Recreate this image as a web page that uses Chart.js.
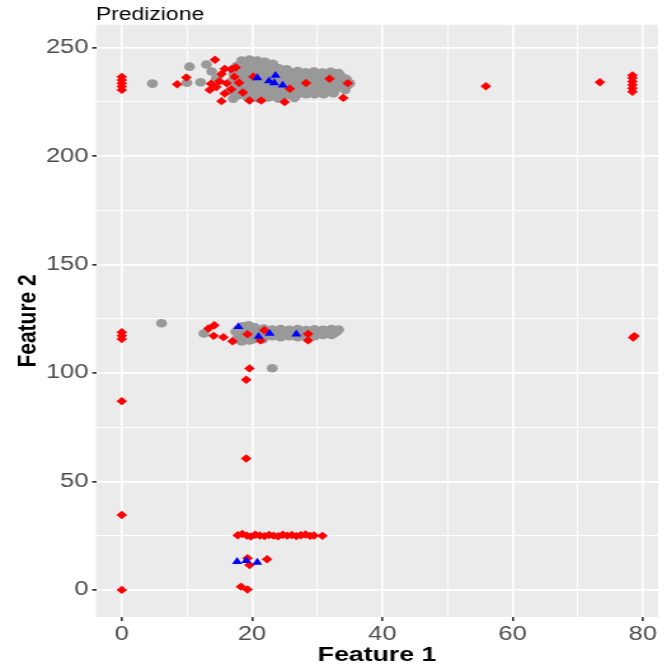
<!DOCTYPE html>
<html>
<head>
<meta charset="utf-8">
<title>Predizione</title>
<script src="https://cdn.jsdelivr.net/npm/chart.js@4.4.0/dist/chart.umd.min.js"></script>
<style>
    html, body { margin: 0; padding: 0; background: #fff; overflow: hidden; }
    /* the reference is stretched sideways, so draw narrow and widen */
    #wrap { width: 525px; height: 666px; transform: scaleX(1.2705); transform-origin: 0 0; }
</style>
</head>
<body>
<div id="wrap"><canvas id="chart"></canvas></div>
<script>
// Data
const xTicks = [0, 20, 40, 60, 80];
const yTicks = [0, 50, 100, 150, 200, 250];

const greyX = [
    4.7, 10.0, 10.4, 12.1, 13.0, 13.8, 14.5, 16.6, 17.1,
    18.4, 19.6, 20.8, 22.0, 23.2,
    17.6, 18.9, 20.2, 21.5, 22.8, 24.1, 25.3,
    18.0, 19.3, 20.6, 21.9, 23.2, 24.5, 25.8, 27.0, 28.2, 29.5, 30.8, 32.1, 33.3,
    17.2, 18.5, 19.8, 21.1, 22.4, 23.7, 25.0, 26.3, 27.6, 28.9, 30.2, 31.5, 32.8, 33.8,
    17.8, 19.1, 20.4, 21.7, 23.0, 24.3, 25.6, 26.9, 28.2, 29.5, 30.8, 32.1, 33.4, 34.5,
    16.9, 18.2, 19.5, 20.8, 22.1, 23.4, 24.7, 26.0, 27.3, 28.6, 29.9, 31.2, 32.5, 33.8, 35.0,
    17.6, 18.9, 20.2, 21.5, 22.8, 24.1, 25.4, 26.7, 28.0, 29.3, 30.6, 31.9, 33.2, 34.6,
    17.4, 18.7, 20.0, 21.3, 22.6, 23.9, 25.2, 26.5, 27.8, 29.1, 30.4, 31.7, 33.0, 34.3,
    18.3, 19.6, 20.9, 22.2, 23.5, 24.8, 26.1, 27.4, 28.7, 30.0, 31.3, 32.6,
    17.9, 19.2, 20.5, 21.8, 23.1, 24.4, 25.7, 27.0, 28.3, 29.6, 31.0, 32.5,
    19.5, 21.0, 22.5, 24.0, 26.5,
    18.6, 19.5, 20.4,
    17.9, 19.2, 20.5, 21.8, 23.1, 24.4, 25.7, 27.0, 28.3, 29.6, 30.9, 32.2, 33.3,
    17.5, 18.8, 20.1, 21.4, 22.7, 24.0, 25.3, 26.6, 27.9, 29.2, 30.5, 31.8, 33.0,
    18.3, 19.6, 20.9, 22.2, 23.5, 24.8, 26.1, 27.4, 28.7, 30.0, 31.3, 32.6,
    17.9, 19.2, 20.5, 21.8, 23.1, 24.4, 25.7, 27.0, 28.3, 29.6, 30.9, 32.2,
    17.7, 19.0, 20.3, 21.6,
    18.4, 19.6,
    12.6, 6.1, 23.1
];
const greyY = [
    233.4, 233.8, 241.2, 234.0, 242.2, 239.0, 235.6, 230.0, 226.4,
    244.0, 244.5, 244.0, 243.5, 242.5,
    241.5, 242.0, 241.0, 241.5, 240.8, 240.5, 240.0,
    239.8, 240.2, 239.6, 240.0, 239.5, 239.8, 238.8, 239.2, 238.6, 239.0, 238.5, 238.8, 238.2,
    238.0, 237.5, 238.5, 238.0, 237.5, 238.5, 237.5, 238.0, 237.5, 238.0, 237.5, 237.5, 238.0, 236.5,
    236.2, 236.5, 235.9, 236.3, 236.0, 236.6, 236.1, 235.8, 236.4, 236.0, 236.3, 235.9, 236.2, 235.5,
    234.5, 235.0, 234.0, 234.5, 235.0, 234.0, 234.5, 235.0, 234.0, 234.5, 235.0, 234.0, 234.5, 235.0, 233.5,
    232.8, 233.1, 232.5, 232.9, 232.6, 233.0, 232.7, 232.4, 232.9, 232.6, 233.0, 232.5, 232.8, 232.4,
    231.0, 230.5, 231.5, 231.0, 230.5, 231.0, 231.5, 230.5, 231.0, 231.5, 230.5, 231.0, 231.5, 230.5,
    229.3, 229.0, 229.6, 229.2, 229.5, 229.1, 229.4, 229.8, 229.6, 229.9, 230.0, 230.2,
    228.0, 227.5, 228.0, 227.0, 227.5, 227.5, 228.0, 228.5, 228.5, 228.5, 228.5, 229.0,
    226.5, 226.5, 227.0, 226.5, 226.8,
    121.5, 122.0, 121.0,
    120.3, 120.6, 120.2, 120.5, 120.0, 120.3, 119.9, 120.2, 119.8, 120.1, 119.9, 120.3, 120.0,
    119.0, 118.5, 119.5, 119.0, 118.5, 119.0, 118.5, 119.0, 118.5, 119.0, 118.5, 119.5, 119.0,
    117.8, 117.5, 118.0, 117.7, 117.9, 117.6, 118.0, 117.7, 117.9, 118.1, 118.2, 118.3,
    116.5, 116.0, 117.0, 116.5, 117.0, 116.5, 117.0, 116.5, 117.0, 117.0, 117.5, 117.5,
    115.5, 115.2, 115.6, 115.4,
    114.5, 115.0,
    118.2, 122.9, 102.2
];

const redX = [
    0, 0, 0, 0, 0, 0, 0, 0, 0, 0, 0,
    8.5, 9.9, 14.3, 15.8, 16.8, 15.3, 13.7, 16.1, 14.5, 16.8, 18.6, 15.3, 19.6, 21.4, 25.0,
    20.2, 25.8, 28.3, 31.9, 34.7, 34.0, 17.3, 18.0, 15.0, 13.5, 15.8, 17.5,
    55.9, 73.4, 78.4, 78.4, 78.4, 78.4, 78.4, 78.4,
    13.3, 14.2, 14.1, 15.6, 17.0, 19.3, 21.3, 21.9, 28.6, 28.6, 78.5, 78.7,
    19.6, 19.1, 19.1,
    17.8, 18.5, 19.2, 19.8, 20.5, 21.2, 21.9, 22.6, 23.3, 24.0, 24.7, 25.4, 26.1, 26.8, 27.5, 28.2, 28.9, 29.5, 30.8,
    19.3, 19.6, 22.3, 18.3, 19.3
];
const redY = [
    230.5, 232.0, 233.5, 235.0, 236.5, 118.8, 117.2, 115.6, 87.0, 34.5, 0,
    233.1, 236.2, 244.4, 240.2, 240.0, 237.8, 233.3, 233.5, 231.8, 230.8, 229.3, 225.3, 225.6, 225.6, 224.9,
    236.6, 231.0, 233.7, 235.6, 233.6, 226.8, 236.5, 233.8, 234.5, 230.5, 228.8, 240.8,
    232.2, 234.0, 229.6, 231.2, 232.8, 234.4, 236.0, 237.2,
    120.5, 122.0, 117.1, 116.5, 114.6, 117.9, 115.0, 119.7, 118.0, 115.0, 116.3, 117.0,
    102.1, 96.9, 60.6,
    25.2, 25.8, 25.0, 24.6, 25.4, 25.1, 24.8, 25.3, 25.0, 24.7, 25.4, 25.0, 25.3, 24.8, 25.2, 25.5, 24.9, 25.1, 24.9,
    14.6, 11.5, 14.1, 1.5, 0.2
];

const blueX = [20.8, 23.6, 22.6, 23.4, 24.7, 17.9, 21.0, 22.7, 26.8, 17.7, 19.1, 20.8];
const blueY = [236.0, 237.1, 234.6, 233.7, 232.6, 121.3, 116.8, 118.2, 117.9, 13.0, 13.4, 12.7];

// Helpers
const fontFamily = '"Liberation Sans", Arial, sans-serif';
const toPoints = (xs, ys) => xs.map((x, i) => ({ x: x, y: ys[i] }));
const isMajor = (ticks, ctx) => ctx.tick && ticks.includes(ctx.tick.value);

// grey panel behind the grid
const panelBackground = {
    id: 'panelBackground',
    beforeDraw: (chart) => {
        const { ctx, chartArea } = chart;
        ctx.save();
        ctx.fillStyle = '#EBEBEB';
        ctx.fillRect(chartArea.left, chartArea.top, chartArea.right - chartArea.left, chartArea.bottom - chartArea.top);
        ctx.restore();
    }
};

const ctx = document.getElementById('chart').getContext('2d');
new Chart(ctx, {
    type: 'scatter',
    data: {
        datasets: [
            {
                label: 'blue',
                data: toPoints(blueX, blueY),
                pointStyle: 'triangle',
                pointRadius: 4.6,
                backgroundColor: '#0000FF',
                borderColor: '#0000FF',
                borderWidth: 0
            },
            {
                label: 'red',
                data: toPoints(redX, redY),
                pointStyle: 'rectRot',
                pointRadius: 4.2,
                backgroundColor: '#FF0000',
                borderColor: '#FF0000',
                borderWidth: 0
            },
            {
                label: 'grey',
                data: toPoints(greyX, greyY),
                pointStyle: 'circle',
                pointRadius: 4.3,
                backgroundColor: '#999999',
                borderColor: '#999999',
                borderWidth: 0
            }
        ]
    },
    options: {
        responsive: true,
        maintainAspectRatio: false,
        animation: false,
        layout: { padding: { left: 6, right: 7, top: 0, bottom: 0 } },
        plugins: {
            legend: { display: false },
            tooltip: { enabled: false },
            title: {
                display: true,
                text: 'Predizione',
                align: 'start',
                fullSize: false,
                color: '#000000',
                font: { family: fontFamily, size: 18, weight: 'normal', lineHeight: 1.1 },
                padding: { top: 5, bottom: 0 }
            }
        },
        scales: {
            x: {
                type: 'linear',
                min: -3.95,
                max: 82.35,
                afterFit: (scale) => { scale.height = 49; },
                border: { display: false },
                grid: {
                    color: '#FFFFFF',
                    lineWidth: (c) => isMajor(xTicks, c) ? 1.6 : 0.9,
                    tickColor: (c) => isMajor(xTicks, c) ? '#333333' : 'rgba(0,0,0,0)',
                    tickLength: 4
                },
                ticks: {
                    stepSize: 10,
                    includeBounds: false,
                    autoSkip: false,
                    maxRotation: 0,
                    padding: 1,
                    color: '#4D4D4D',
                    font: { family: fontFamily, size: 20 },
                    callback: (v) => xTicks.includes(v) ? String(v) : ''
                },
                title: {
                    display: true,
                    text: 'Feature 1',
                    color: '#000000',
                    font: { family: fontFamily, size: 21, weight: 'bold', lineHeight: 1 },
                    padding: 0
                }
            },
            y: {
                type: 'linear',
                min: -12.5,
                max: 260.5,
                afterFit: (scale) => { scale.width = 69.6; },
                border: { display: false },
                grid: {
                    color: '#FFFFFF',
                    lineWidth: (c) => isMajor(yTicks, c) ? 1.7 : 1,
                    tickColor: (c) => isMajor(yTicks, c) ? '#333333' : 'rgba(0,0,0,0)',
                    tickLength: 3
                },
                ticks: {
                    stepSize: 25,
                    includeBounds: false,
                    autoSkip: false,
                    padding: 3,
                    color: '#4D4D4D',
                    font: { family: fontFamily, size: 20 },
                    callback: (v) => yTicks.includes(v) ? String(v) : ''
                },
                title: {
                    display: true,
                    text: 'Feature 2',
                    color: '#000000',
                    font: { family: fontFamily, size: 21, weight: 'bold', lineHeight: 1 },
                    padding: { top: 5.5, bottom: 0 }
                }
            }
        }
    },
    plugins: [panelBackground]
});
</script>
</body>
</html>
